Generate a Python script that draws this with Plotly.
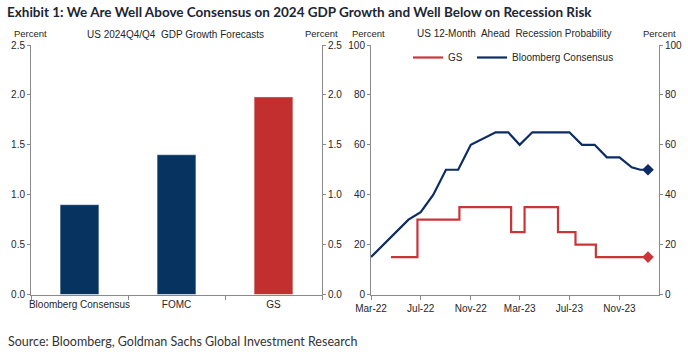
import plotly.graph_objects as go

W, H = 688, 352

# ---- data ----
gdp_categories = ["Bloomberg Consensus", "FOMC", "GS"]
gdp_values = [0.9, 1.4, 1.98]
gdp_colors = ["#06335f", "#06335f", "#c1302f"]

bbg_dates = ["2022-03-01", "2022-04-01", "2022-05-01", "2022-06-01", "2022-07-01",
             "2022-08-01", "2022-09-01", "2022-10-01", "2022-11-01", "2022-12-01",
             "2023-01-01", "2023-02-01", "2023-03-01", "2023-04-01", "2023-05-01",
             "2023-06-01", "2023-07-01", "2023-08-01", "2023-09-01", "2023-10-01",
             "2023-11-01", "2023-12-01", "2023-12-22", "2024-01-10"]
bbg_values = [15, 20, 25, 30, 33, 40, 50, 50, 60, 62.5, 65, 65, 60, 65, 65,
              65, 65, 60, 60, 55, 55, 51, 50, 50]

gs_dates = ["2022-04-19", "2022-06-23", "2022-10-04", "2023-02-08", "2023-03-13",
            "2023-06-03", "2023-07-16", "2023-09-04", "2024-01-10"]
gs_values = [15, 30, 35, 25, 35, 25, 20, 15, 15]

gdp_yticks = [0.0, 0.5, 1.0, 1.5, 2.0, 2.5]
rec_yticks = [0, 20, 40, 60, 80, 100]

NAVY = "#0b2c66"
RED = "#c9363a"
AX = "#8a8a8a"
TXT = "#262626"
FONT = "Liberation Sans, Arial, sans-serif"

def px_x(v):
    return v / W

def px_y(v):
    return 1 - v / H

left_dom = [px_x(31), px_x(322)]
right_dom = [px_x(371), px_x(659)]
ydom = [px_y(294.5), px_y(45)]

fig = go.Figure()

fig.add_trace(go.Bar(x=gdp_categories, y=gdp_values, marker=dict(color=gdp_colors, line=dict(width=0)),
                     width=0.4, xaxis="x", yaxis="y", showlegend=False))
fig.add_trace(go.Bar(x=gdp_categories, y=gdp_values, marker=dict(color="rgba(0,0,0,0)"),
                     width=0.4, xaxis="x", yaxis="y2", showlegend=False, hoverinfo="skip"))

fig.add_trace(go.Scatter(x=gs_dates, y=gs_values, mode="lines", line=dict(color=RED, width=2.2, shape="hv"),
                         name="GS", xaxis="x2", yaxis="y3", legend="legend"))
fig.add_trace(go.Scatter(x=bbg_dates, y=bbg_values, mode="lines", line=dict(color=NAVY, width=2.2),
                         name="Bloomberg Consensus", xaxis="x2", yaxis="y3", legend="legend2"))
fig.add_trace(go.Scatter(x=[gs_dates[-1]], y=[gs_values[-1]], mode="markers",
                         marker=dict(symbol="diamond", size=9, color=RED), showlegend=False,
                         xaxis="x2", yaxis="y4"))
fig.add_trace(go.Scatter(x=[bbg_dates[-1]], y=[bbg_values[-1]], mode="markers",
                         marker=dict(symbol="diamond", size=9, color=NAVY), showlegend=False,
                         xaxis="x2", yaxis="y4"))

tickfont = dict(family=FONT, size=10, color=TXT)
yax_common = dict(showgrid=False, zeroline=False, showline=True, linecolor=AX, linewidth=1,
                  ticks="outside", ticklen=3, tickcolor=AX, tickfont=tickfont, fixedrange=True,
                  automargin=False)

legend_common = dict(orientation="h", xanchor="left", yanchor="top",
                     font=dict(family=FONT, size=10, color=TXT),
                     bgcolor="rgba(0,0,0,0)", itemwidth=30)

fig.update_layout(
    width=W, height=H,
    margin=dict(l=0, r=0, t=0, b=0, autoexpand=False),
    paper_bgcolor="white", plot_bgcolor="white",
    bargap=0.6,
    xaxis=dict(domain=left_dom, anchor="y", showline=True, linecolor=AX, linewidth=1,
               ticks="outside", ticklen=4, tickcolor=AX, tickson="boundaries", tickangle=0,
               tickfont=tickfont, showgrid=False, fixedrange=True, automargin=False),
    yaxis=dict(domain=ydom, anchor="x", range=[0, 2.5], tickvals=gdp_yticks,
               tickformat=".1f", **yax_common),
    yaxis2=dict(overlaying="y", side="right", anchor="x", range=[0, 2.5], tickvals=gdp_yticks,
                tickformat=".1f", **yax_common),
    xaxis2=dict(domain=right_dom, anchor="y3", type="date", range=["2022-03-01", "2024-02-06"],
                tick0="2022-03-01", dtick="M4", tickformat="%b-%y", showline=True, linecolor=AX,
                linewidth=1, ticks="outside", ticklen=4, tickcolor=AX, tickfont=tickfont,
                showgrid=False, fixedrange=True, automargin=False, tickangle=0),
    yaxis3=dict(domain=ydom, anchor="x2", range=[0, 100], tickvals=rec_yticks, **yax_common),
    yaxis4=dict(overlaying="y3", side="right", anchor="x2", range=[0, 100], tickvals=rec_yticks,
                **yax_common),
    legend=dict(x=px_x(408), y=px_y(43), **legend_common),
    legend2=dict(x=px_x(472), y=px_y(43), **legend_common),
)

def ann(text, x, y, size=10, xanchor="center", family=FONT, color=TXT):
    fig.add_annotation(text=text, x=px_x(x), y=px_y(y), xref="paper", yref="paper",
                       showarrow=False, xanchor=xanchor, yanchor="middle",
                       font=dict(family=family, size=size, color=color))

ann("Percent", 31, 33, size=9.5)
ann("Percent", 321, 33, size=9.5)
ann("US 2024Q4/Q4  GDP Growth Forecasts", 175, 35)
ann("Percent", 369, 33, size=9.5)
ann("Percent", 659, 33, size=9.5)
ann("US 12-Month  Ahead  Recession Probability", 514, 33)

ann("<b>Exhibit 1: We Are Well Above Consensus on 2024 GDP Growth and Well Below on Recession Risk</b>",
    5, 12, size=13.5, xanchor="left", family="Lato, sans-serif", color="#1c2533")
ann("Source: Bloomberg, Goldman Sachs Global Investment Research", 6, 341, size=12.5, xanchor="left",
    family="Lato, sans-serif", color="#333333")

fig.write_html("out.html")
